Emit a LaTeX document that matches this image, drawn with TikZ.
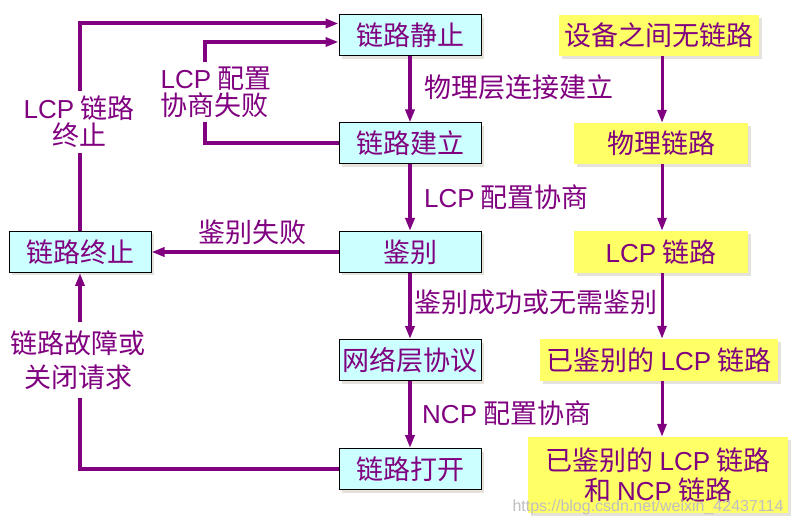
\documentclass[tikz,border=0pt]{standalone}
\usepackage{fontspec}
\setmainfont{Liberation Sans}
\newfontfamily\cjkfont{Noto Sans CJK SC}
\usetikzlibrary{arrows.meta,shadows}
\newcommand\La[1]{{\rmfamily\fontsize{26}{27}\selectfont #1}}
\definecolor{ppl}{RGB}{128,0,128}
\definecolor{cyanfill}{RGB}{204,255,255}
\definecolor{yelfill}{RGB}{255,255,102}
\definecolor{shadowc}{RGB}{228,226,218}
\tikzset{
  boxshadow/.style={drop shadow={shadow xshift=3pt,shadow yshift=-3pt,fill=shadowc,opacity=1}},
  txt/.style={text=ppl,font=\cjkfont\fontsize{27}{27}\selectfont},
  statebox/.style={txt,draw=black,line width=1pt,fill=cyanfill,minimum width=142pt,
    minimum height=41pt,inner sep=0pt,boxshadow},
  linkbox/.style={txt,fill=yelfill,minimum height=41pt,inner sep=0pt,align=center,boxshadow},
  lbl/.style={txt,inner sep=0pt},
  gaplbl/.style={txt,inner xsep=0pt,inner ysep=5pt,fill=white},
  flow/.style={draw=ppl,line width=4pt},
  flowarr/.style={flow,-{Triangle[length=13pt,width=9pt]}},
  thinarr/.style={draw=ppl,line width=3pt,-{Triangle[length=13pt,width=9pt]}},
}
\begin{document}
\begin{tikzpicture}[x=1pt,y=-1pt]
\useasboundingbox (0,0) rectangle (794,526);
\fill[white] (0,0) rectangle (794,526);

% PPP phase states (left column)
\node[statebox] (quiet) at (410,35.5) {链路静止};
\node[statebox] (est)   at (410,143.5) {链路建立};
\node[statebox] (auth)  at (410,252) {鉴别};
\node[statebox] (net)   at (410,360) {网络层协议};
\node[statebox] (open)  at (410,469) {链路打开};
\node[statebox] (term)  at (80,252) {链路终止};

% link status (right column)
\node[linkbox,minimum width=200pt] (s1) at (659,35.5) {设备之间无链路};
\node[linkbox,minimum width=174pt] (s2) at (661,143.5) {物理链路};
\node[linkbox,minimum width=174pt,minimum height=42pt] (s3) at (661,252) {\La{LCP} 链路};
\node[linkbox,minimum width=238pt,minimum height=42pt] (s4) at (659,360) {已鉴别的 \La{LCP} 链路};
\node[linkbox,minimum width=260pt,minimum height=76pt,
      font=\cjkfont\fontsize{27}{30}\selectfont] (s5) at (658,475)
      {已鉴别的 \La{LCP} 链路\\和 \La{NCP} 链路};

% main forward transitions
\draw[flowarr] (quiet) -- (est);
\draw[flowarr] (est) -- (auth);
\draw[flowarr] (auth) -- (net);
\draw[flowarr] (net) -- (open);
\node[lbl,anchor=west] (t1) at (424,87) {物理层连接建立};
\node[lbl,anchor=west] (t2) at (424,197) {\La{LCP} 配置协商};
\node[lbl,anchor=west] (t3) at (414,302) {鉴别成功或无需鉴别};
\node[lbl,anchor=west] (t4) at (422,413) {\La{NCP} 配置协商};

% right column chain
\coordinate (rx) at (662,0);
\draw[thinarr] (s1.south -| rx) -- (s2.north -| rx);
\draw[thinarr] (s2.south -| rx) -- (s3.north -| rx);
\draw[thinarr] (s3.south -| rx) -- (s4.north -| rx);
\draw[thinarr] (s4.south -| rx) -- (s5.north -| rx);

% termination back to the dead state
\coordinate (q1) at ([yshift=12pt]quiet.west);
\coordinate (q2) at ([yshift=-6.5pt]quiet.west);
\node[gaplbl,align=center] (l1) at (79,122) {\La{LCP} 链路\\终止};
\draw[flow] (term.north) -- (term.north |- l1.south);
\draw[flowarr] (term.north |- l1.north) |- (q1);

% failed LCP negotiation
\coordinate (v2) at (205,0);
\node[gaplbl,align=left,inner ysep=4pt] (l2) at (216,92)
  {\fontsize{27}{28}\selectfont\La{LCP} 配置\\协商失败};
\draw[flow] (est.west) -| (v2 |- l2.south);
\draw[flowarr] (v2 |- l2.north) |- (q2);

% failed authentication
\draw[flowarr] (auth) -- (term);
\node[lbl] (l3) at (252,232) {鉴别失败};

% link failure or close request
\node[gaplbl,align=center,inner ysep=8pt,
      font=\cjkfont\fontsize{27}{34}\selectfont] (l4) at (78,360) {链路故障或\\关闭请求};
\draw[flow] (open.west) -| (term.south |- l4.south);
\draw[flowarr] (term.south |- l4.north) -- (term.south);

% blog address
\node[text=black!25,font=\rmfamily\fontsize{16}{16}\selectfont,inner sep=0pt]
  (wm) at (648,507) {https://blog.csdn.net/weixin\_42437114};
\end{tikzpicture}
\end{document}
